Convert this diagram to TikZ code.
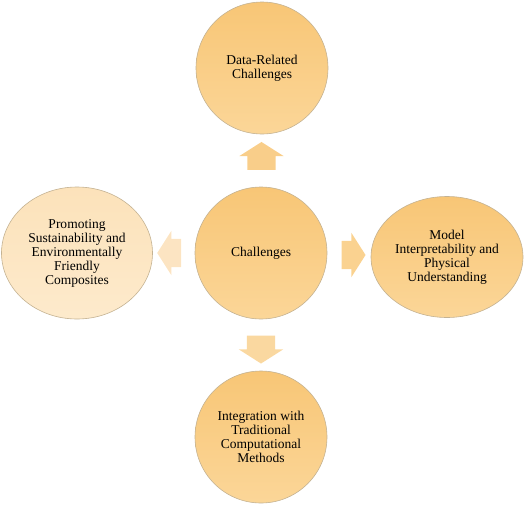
\documentclass[tikz,border=0pt]{standalone}
\usepackage{fontspec}
\setmainfont{Liberation Serif}
\usetikzlibrary{positioning,calc,shapes.geometric,shapes.arrows}

\definecolor{bdr}{RGB}{196,178,146}
\definecolor{orTop}{RGB}{248,198,118}
\definecolor{orBot}{RGB}{251,214,152}
\definecolor{paleTop}{RGB}{252,226,186}
\definecolor{paleBot}{RGB}{253,234,204}

\begin{document}
\begin{tikzpicture}[x=1pt,y=-1pt,
 font=\fontsize{13.5}{14}\selectfont,
 c/.style={circle,draw=bdr,line width=0.6pt,align=center,minimum size=132pt,
 inner sep=0pt,top color=orTop,bottom color=orBot},
 e/.style={ellipse,draw=bdr,line width=0.6pt,align=center,inner sep=0pt,
 top color=orTop,bottom color=orBot},
 ar/.style={single arrow,draw=none,inner xsep=0pt,inner ysep=14pt,minimum width=44pt,
 single arrow head extend=8pt,single arrow tip angle=115}]
\useasboundingbox (0,0) rectangle (524,506);
\node[c] (ch) at (261,253) {Challenges};
\node[c] (data) at (262,68) {Data-Related\\Challenges};
\node[e,minimum width=151pt,minimum height=132pt,top color=paleTop,bottom color=paleBot]
 (sus) at (77,253) {Promoting\\Sustainability and\\Environmentally\\Friendly\\Composites};
\node[e,minimum width=152pt,minimum height=121pt] (mod) at (447,257)
 {Model\\Interpretability and\\Physical\\Understanding};
\node[c] (int) at (261,437) {Integration with\\Traditional\\Computational\\Methods};
\node[ar,minimum height=28pt,fill={rgb,255:red,249;green,206;blue,138},rotate=90]
 (up) at ($(ch.north)!0.5!(data.south)$) {};
\node[ar,minimum height=24pt,fill={rgb,255:red,252;green,228;blue,194},rotate=180]
 (lt) at ($(ch.west)!0.5!(sus.east)$) {};
\node[ar,minimum height=24pt,fill={rgb,255:red,250;green,210;blue,144}]
 (rt) at ($(ch.east)!0.5!(mod.west)$) {};
\node[ar,minimum height=28pt,fill={rgb,255:red,250;green,216;blue,160},rotate=-90]
 (dn) at ($(ch.south)!0.5!(int.north)$) {};
\end{tikzpicture}
\end{document}
